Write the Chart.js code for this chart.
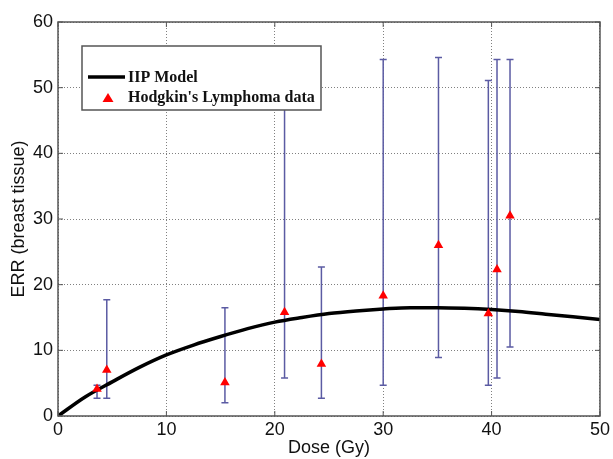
<!DOCTYPE html>
<html>
<head>
<meta charset="utf-8">
<script src="https://cdn.jsdelivr.net/npm/chart.js@4"></script>
<style>
  html, body { margin: 0; padding: 0; background: #fff; }
  #wrap { width: 613px; height: 459px; }
</style>
</head>
<body>
<div id="wrap"><canvas id="errChart" width="613" height="459"></canvas></div>
<script>
// IIP model curve
const modelDose = [0, 2.5, 5, 7.5, 10, 12.5, 15, 17.5, 20, 22.5, 25, 27.5, 30, 32.5, 35, 37.5, 40, 42.5, 45, 47.5, 50];
const modelErr  = [0, 2.9, 5.2, 7.4, 9.3, 10.8, 12.1, 13.3, 14.3, 15.0, 15.6, 16.0, 16.3, 16.5, 16.5, 16.4, 16.2, 15.9, 15.5, 15.1, 14.7];

// Hodgkin's lymphoma data with error bars
const hlDose = [3.6, 4.5, 15.4, 20.9, 24.3, 30.0, 35.1, 39.7, 40.5, 41.7];
const hlErr  = [4.1, 7.0, 5.1, 15.8, 7.9, 18.3, 26.0, 15.6, 22.3, 30.5];
const hlLow  = [2.7, 2.7, 2.0, 5.8, 2.7, 4.7, 8.9, 4.7, 5.8, 10.5];
const hlHigh = [4.7, 17.7, 16.5, 54.3, 22.7, 54.3, 54.6, 51.1, 54.3, 54.3];

const xTicks = [0, 10, 20, 30, 40, 50];
const yTicks = [0, 10, 20, 30, 40, 50, 60];

const legendLabels = ["IIP Model", "Hodgkin's Lymphoma data"];

const errorBars = {
  id: "errorBars",
  beforeDatasetsDraw(chart) {
    const { ctx, scales: { x, y } } = chart;
    ctx.save();
    ctx.strokeStyle = "#5b5ba3";
    ctx.lineWidth = 1.5;
    hlDose.forEach((d, i) => {
      const px = x.getPixelForValue(d);
      const top = y.getPixelForValue(hlHigh[i]);
      const bot = y.getPixelForValue(hlLow[i]);
      ctx.beginPath();
      ctx.moveTo(px, top); ctx.lineTo(px, bot);
      ctx.moveTo(px - 3.5, top); ctx.lineTo(px + 3.5, top);
      ctx.moveTo(px - 3.5, bot); ctx.lineTo(px + 3.5, bot);
      ctx.stroke();
    });
    ctx.restore();
  }
};

// box frame with inward ticks on all sides, plus the boxed legend
const frame = {
  id: "frame",
  afterDatasetsDraw(chart) {
    const { ctx, chartArea: a, scales: { x, y } } = chart;
    ctx.save();
    ctx.strokeStyle = "#555";
    ctx.lineWidth = 1.5;
    ctx.strokeRect(a.left, a.top, a.right - a.left, a.bottom - a.top);
    ctx.lineWidth = 1;
    ctx.beginPath();
    xTicks.forEach(v => {
      const px = x.getPixelForValue(v);
      ctx.moveTo(px, a.bottom); ctx.lineTo(px, a.bottom - 5);
      ctx.moveTo(px, a.top); ctx.lineTo(px, a.top + 5);
    });
    yTicks.forEach(v => {
      const py = y.getPixelForValue(v);
      ctx.moveTo(a.left, py); ctx.lineTo(a.left + 5, py);
      ctx.moveTo(a.right, py); ctx.lineTo(a.right - 5, py);
    });
    ctx.stroke();

    const lx = 82, ly = 46, lw = 239, lh = 64;
    ctx.fillStyle = "#fff";
    ctx.fillRect(lx, ly, lw, lh);
    ctx.strokeStyle = "#555";
    ctx.lineWidth = 1.5;
    ctx.strokeRect(lx, ly, lw, lh);

    ctx.strokeStyle = "#000";
    ctx.lineWidth = 3.5;
    ctx.beginPath();
    ctx.moveTo(88, 77); ctx.lineTo(125, 77);
    ctx.stroke();

    ctx.fillStyle = "#f00";
    ctx.beginPath();
    ctx.moveTo(108, 93); ctx.lineTo(113.5, 102); ctx.lineTo(102.5, 102);
    ctx.closePath();
    ctx.fill();

    ctx.fillStyle = "#111";
    ctx.font = "bold 16px 'Liberation Serif'";
    ctx.textBaseline = "middle";
    ctx.fillText(legendLabels[0], 128, 78);
    ctx.fillText(legendLabels[1], 128, 98);
    ctx.restore();
  }
};

new Chart(document.getElementById("errChart"), {
  type: "scatter",
  data: {
    datasets: [
      {
        label: legendLabels[0],
        data: modelDose.map((d, i) => ({ x: d, y: modelErr[i] })),
        showLine: true,
        borderColor: "#000",
        borderWidth: 3.5,
        pointRadius: 0,
        cubicInterpolationMode: "monotone",
        order: 1
      },
      {
        label: legendLabels[1],
        data: hlDose.map((d, i) => ({ x: d, y: hlErr[i] })),
        pointStyle: "triangle",
        pointRadius: 5.5,
        backgroundColor: "#f00",
        borderColor: "#f00",
        borderWidth: 0,
        order: 0
      }
    ]
  },
  options: {
    responsive: false,
    animation: false,
    devicePixelRatio: 1,
    layout: { padding: { top: 22, right: 11, left: 0, bottom: 0 } },
    plugins: { legend: { display: false }, tooltip: { enabled: false } },
    scales: {
      x: {
        type: "linear",
        min: 0, max: 50,
        afterBuildTicks: s => { s.ticks = xTicks.map(v => ({ value: v })); },
        afterFit: s => { s.height = 43; },
        grid: { color: "#808080", lineWidth: 1, drawTicks: false },
        border: { display: false, dash: [1, 2] },
        ticks: { color: "#111", font: { family: "'Liberation Sans'", size: 18 }, padding: 3 },
        title: { display: true, text: "Dose (Gy)", color: "#111", font: { family: "'Liberation Sans'", size: 18 }, padding: { top: -5, bottom: 0 } }
      },
      y: {
        type: "linear",
        min: 0, max: 60,
        afterBuildTicks: s => { s.ticks = yTicks.map(v => ({ value: v })); },
        afterFit: s => { s.width = 58; },
        grid: { color: "#808080", lineWidth: 1, drawTicks: false },
        border: { display: false, dash: [1, 2] },
        ticks: { color: "#111", font: { family: "'Liberation Sans'", size: 18 }, padding: 5 },
        title: { display: true, text: "ERR (breast tissue)", color: "#111", font: { family: "'Liberation Sans'", size: 18 }, padding: { top: 8, bottom: 0 } }
      }
    }
  },
  plugins: [errorBars, frame]
});
</script>
</body>
</html>
